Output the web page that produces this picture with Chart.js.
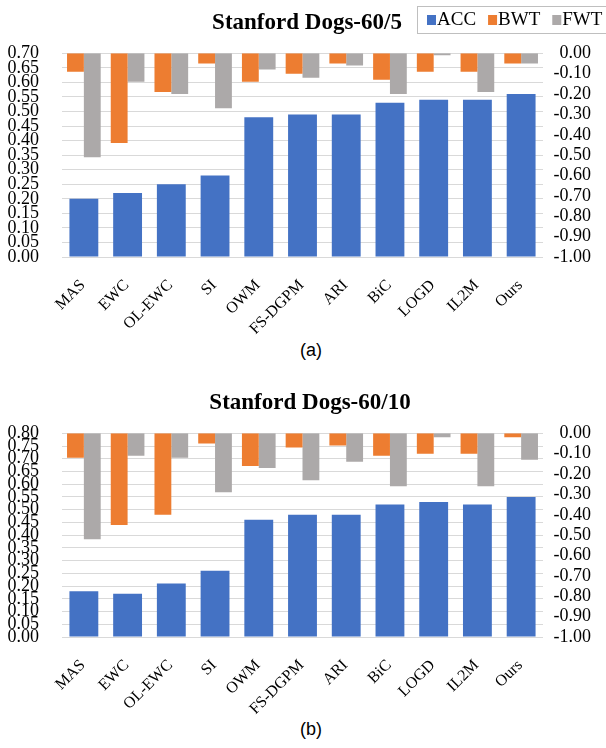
<!DOCTYPE html>
<html>
<head>
<meta charset="utf-8">
<script src="https://cdn.jsdelivr.net/npm/chart.js@4/dist/chart.umd.min.js"></script>
<style>
  body { margin: 0; background: #fff; width: 606px; height: 748px; position: relative; overflow: hidden; }
  canvas { position: absolute; left: 0; }
  .cap { position: absolute; left: 0; width: 622px; text-align: center; font: 18px "Liberation Sans", Arial, sans-serif; line-height: 20px; color: #000; }
</style>
</head>
<body>
<canvas id="chartA" width="606" height="337" style="top:0"></canvas>
<div class="cap" style="top:340px">(a)</div>
<canvas id="chartB" width="606" height="337" style="top:380px"></canvas>
<div class="cap" style="top:719px">(b)</div>
<script>
// --- data ---
const methods = ['MAS', 'EWC', 'OL-EWC', 'SI', 'OWM', 'FS-DGPM', 'ARI', 'BiC', 'LOGD', 'IL2M', 'Ours'];

// Stanford Dogs-60/5
const accA = [0.20, 0.22, 0.25, 0.28, 0.48, 0.49, 0.49, 0.53, 0.54, 0.54, 0.56];
const bwtA = [-0.09, -0.44, -0.19, -0.05, -0.14, -0.10, -0.05, -0.13, -0.09, -0.09, -0.05];
const fwtA = [-0.51, -0.14, -0.20, -0.27, -0.08, -0.12, -0.06, -0.20, -0.01, -0.19, -0.05];

// Stanford Dogs-60/10
const accB = [0.18, 0.17, 0.21, 0.26, 0.46, 0.48, 0.48, 0.52, 0.53, 0.52, 0.55];
const bwtB = [-0.12, -0.45, -0.40, -0.05, -0.16, -0.07, -0.06, -0.11, -0.10, -0.10, -0.02];
const fwtB = [-0.52, -0.11, -0.12, -0.29, -0.17, -0.23, -0.14, -0.26, -0.02, -0.26, -0.13];

// tick values
const leftTicksA = [0, 0.05, 0.10, 0.15, 0.20, 0.25, 0.30, 0.35, 0.40, 0.45, 0.50, 0.55, 0.60, 0.65, 0.70];
const leftTicksB = [0, 0.05, 0.10, 0.15, 0.20, 0.25, 0.30, 0.35, 0.40, 0.45, 0.50, 0.55, 0.60, 0.65, 0.70, 0.75, 0.80];
const rightTicks = [-1.0, -0.9, -0.8, -0.7, -0.6, -0.5, -0.4, -0.3, -0.2, -0.1, 0];

const BLUE = '#4472C4';
const ORANGE = '#ED7D31';
const GRAY = '#ACA9A9';
const SERIF = '"Liberation Serif", "Times New Roman", serif';

// title drawn a bit right of the canvas centre, like the original figure
function titlePlugin(text, cx) {
    return {
        id: 'figTitle',
        afterDraw(chart) {
            const ctx = chart.ctx;
            ctx.save();
            ctx.font = 'bold 23px ' + SERIF;
            ctx.fillStyle = '#000';
            ctx.textAlign = 'center';
            ctx.textBaseline = 'middle';
            ctx.fillText(text, cx, 23);
            ctx.restore();
        }
    };
}

// legend drawn as a boxed row at the top right (only on the first chart)
const legendBox = {
    id: 'legendBox',
    afterDraw(chart) {
        const ctx = chart.ctx;
        ctx.save();
        ctx.strokeStyle = '#bfbfbf';
        ctx.lineWidth = 1;
        ctx.strokeRect(417.5, 6.5, 220, 27);
        ctx.font = '19px ' + SERIF;
        ctx.textBaseline = 'middle';
        let x = 427;
        chart.data.datasets.forEach(ds => {
            ctx.fillStyle = ds.backgroundColor;
            ctx.fillRect(x, 15, 9, 10);
            ctx.fillStyle = '#000';
            ctx.fillText(ds.label, x + 10, 20.5);
            x += 10 + ctx.measureText(ds.label).width + 12;
        });
        ctx.restore();
    }
};

function makeChart(id, acc, bwt, fwt, leftTicks, leftMax, extraPlugins) {
    const ctx = document.getElementById(id).getContext('2d');
    return new Chart(ctx, {
        type: 'bar',
        data: {
            labels: methods,
            datasets: [
                { label: 'ACC', data: acc, yAxisID: 'y', backgroundColor: BLUE, grouped: false,
                  categoryPercentage: 1, barPercentage: 0.66 },
                { label: 'BWT', data: bwt, yAxisID: 'y1', backgroundColor: ORANGE,
                  categoryPercentage: 0.77, barPercentage: 1 },
                { label: 'FWT', data: fwt, yAxisID: 'y1', backgroundColor: GRAY,
                  categoryPercentage: 0.77, barPercentage: 1 }
            ]
        },
        options: {
            responsive: false,
            animation: false,
            layout: { padding: { left: 0, right: 15, top: 53.3, bottom: 0 } },
            plugins: {
                legend: { display: false },
                tooltip: { enabled: false },
                title: { display: false }
            },
            scales: {
                x: {
                    grid: { display: false, drawTicks: false },
                    border: { display: false },
                    ticks: {
                        color: '#000',
                        font: { family: SERIF, size: 16 },
                        minRotation: 45, maxRotation: 45,
                        autoSkip: false,
                        padding: 19,
                        labelOffset: -1
                    },
                    afterFit: s => { s.height = 80; }
                },
                y: {
                    position: 'left',
                    min: 0, max: leftMax,
                    grid: { color: '#d9d9d9', drawTicks: false },
                    border: { display: false },
                    ticks: {
                        color: '#000',
                        font: { family: SERIF, size: 18 },
                        padding: 23,
                        autoSkip: false,
                        callback: v => v.toFixed(2)
                    },
                    afterBuildTicks: s => { s.ticks = leftTicks.map(v => ({ value: v })); },
                    afterFit: s => { s.width = 62; }
                },
                y1: {
                    position: 'right',
                    min: -1, max: 0,
                    grid: { display: false, drawTicks: false },
                    border: { display: false },
                    ticks: {
                        color: '#000',
                        font: { family: SERIF, size: 18 },
                        crossAlign: 'far',
                        autoSkip: false,
                        callback: v => v.toFixed(2)
                    },
                    afterBuildTicks: s => { s.ticks = rightTicks.map(v => ({ value: v })); },
                    afterFit: s => { s.width = 48; }
                }
            }
        },
        plugins: extraPlugins
    });
}

makeChart('chartA', accA, bwtA, fwtA, leftTicksA, 0.70, [titlePlugin('Stanford Dogs-60/5', 307), legendBox]);
makeChart('chartB', accB, bwtB, fwtB, leftTicksB, 0.80, [titlePlugin('Stanford Dogs-60/10', 310)]);
</script>
</body>
</html>
